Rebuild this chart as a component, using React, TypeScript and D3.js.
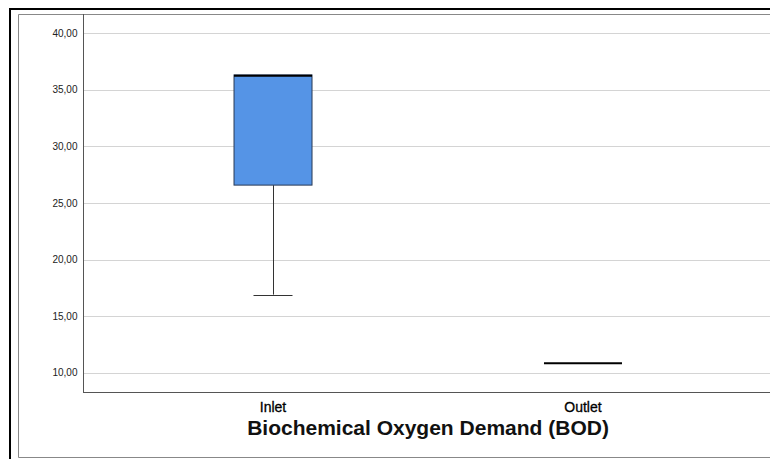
import React, { useEffect, useRef } from 'react';
import * as d3 from 'd3';

const categories = ['Inlet', 'Outlet'];
const mins = [16.9, 10.84];
const q1s = [26.57, 10.84];
const medians = [36.22, 10.84];
const q3s = [36.3, 10.84];
const maxs = [36.3, 10.84];
const yTicks = [10, 15, 20, 25, 30, 35, 40];
const title = 'Biochemical Oxygen Demand (BOD)';

const App = () => {
  const svgRef = useRef<SVGSVGElement>(null);

  useEffect(() => {
    const svg = d3.select(svgRef.current);
    svg.selectAll('*').remove();

    const width = 770;
    const height = 459;
    const left = 83;
    const top = 14;
    const bottom = 392;
    const right = 773;

    svg.attr('width', width).attr('height', height);

    svg.append('rect').attr('width', width).attr('height', height).attr('fill', '#fff');

    // outer frames (only the visible edges)
    const frame = svg.append('g').attr('fill', 'none');
    frame.append('path')
      .attr('d', `M10,${height}V9H${width}`)
      .attr('stroke', '#000').attr('stroke-width', 2);
    frame.append('path')
      .attr('d', `M${width},14.5H18.5V457.5H${width}`)
      .attr('stroke', '#888').attr('stroke-width', 1);

    const y = d3.scaleLinear().domain([8.3, 41.68]).range([bottom, top]);
    const x = d3.scalePoint<string>().domain(categories).range([left, right]).padding(0.613);

    // gridlines
    svg.append('g')
      .selectAll('line')
      .data(yTicks)
      .join('line')
      .attr('x1', left).attr('x2', width)
      .attr('y1', d => Math.round(y(d)) + 0.5).attr('y2', d => Math.round(y(d)) + 0.5)
      .attr('stroke', '#d4d4d4');

    // y axis
    const yAxis = svg.append('g')
      .attr('transform', `translate(${left + 0.5},0)`)
      .call(d3.axisLeft(y).tickValues(yTicks).tickSize(0).tickPadding(6)
        .tickFormat(d => d3.format('.2f')(d as number).replace('.', ',')));
    yAxis.select('.domain').remove();
    yAxis.selectAll('text')
      .attr('font-family', 'Liberation Sans, Arial, sans-serif')
      .attr('font-size', 10)
      .attr('fill', '#222');

    // axis frame lines
    svg.append('line')
      .attr('x1', left + 0.5).attr('x2', left + 0.5).attr('y1', top).attr('y2', bottom + 0.5)
      .attr('stroke', '#555');
    svg.append('line')
      .attr('x1', left).attr('x2', width).attr('y1', bottom + 0.5).attr('y2', bottom + 0.5)
      .attr('stroke', '#555');

    const boxW = 78;
    const capW = 39;
    const idx = d3.range(categories.length);

    // whiskers
    svg.append('g')
      .selectAll('line')
      .data(idx)
      .join('line')
      .attr('x1', i => Math.round(x(categories[i])!) + 0.5)
      .attr('x2', i => Math.round(x(categories[i])!) + 0.5)
      .attr('y1', i => y(mins[i])).attr('y2', i => y(q1s[i]))
      .attr('stroke', '#333');
    svg.append('g')
      .selectAll('line')
      .data(idx)
      .join('line')
      .attr('x1', i => Math.round(x(categories[i])!) + 0.5)
      .attr('x2', i => Math.round(x(categories[i])!) + 0.5)
      .attr('y1', i => y(maxs[i])).attr('y2', i => y(q3s[i]))
      .attr('stroke', '#333');
    svg.append('g')
      .selectAll('line')
      .data(idx.filter(i => mins[i] < q1s[i]))
      .join('line')
      .attr('x1', i => x(categories[i])! - capW / 2).attr('x2', i => x(categories[i])! + capW / 2)
      .attr('y1', i => Math.round(y(mins[i])) + 0.5).attr('y2', i => Math.round(y(mins[i])) + 0.5)
      .attr('stroke', '#333');

    // boxes
    svg.append('g')
      .selectAll('rect')
      .data(idx.filter(i => q3s[i] > q1s[i]))
      .join('rect')
      .attr('x', i => x(categories[i])! - boxW / 2)
      .attr('width', boxW)
      .attr('y', i => y(q3s[i]))
      .attr('height', i => y(q1s[i]) - y(q3s[i]))
      .attr('fill', '#5594e6')
      .attr('stroke', '#2a3a55')
      .attr('stroke-width', 1);

    // medians
    svg.append('g')
      .selectAll('line')
      .data(idx)
      .join('line')
      .attr('x1', i => x(categories[i])! - boxW / 2).attr('x2', i => x(categories[i])! + boxW / 2)
      .attr('y1', i => y(medians[i])).attr('y2', i => y(medians[i]))
      .attr('stroke', '#000').attr('stroke-width', 2);

    // category labels
    svg.append('g')
      .selectAll('text')
      .data(categories)
      .join('text')
      .attr('x', d => x(d)!)
      .attr('y', 412)
      .attr('text-anchor', 'middle')
      .attr('font-family', 'Liberation Sans, Arial, sans-serif')
      .attr('font-size', 14)
      .attr('fill', '#000')
      .attr('stroke', '#000')
      .attr('stroke-width', 0.3)
      .text(d => d);

    svg.append('text')
      .attr('x', (left + right) / 2)
      .attr('y', 435)
      .attr('text-anchor', 'middle')
      .attr('font-family', 'Liberation Sans, Arial, sans-serif')
      .attr('font-size', 21)
      .attr('font-weight', 'bold')
      .attr('fill', '#111')
      .text(title);
  }, []);

  return <svg ref={svgRef} style={{ position: 'absolute', left: 0, top: 0, display: 'block' }}></svg>;
};

export default App;
